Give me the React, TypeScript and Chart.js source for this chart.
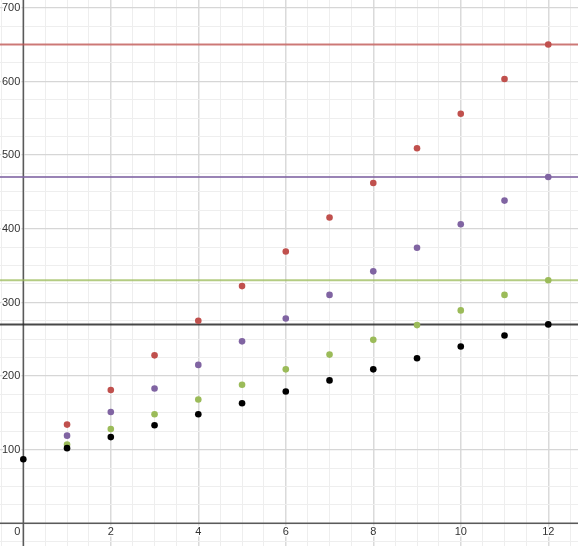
import React, { useEffect, useRef } from "react";
import { Chart, registerables } from "chart.js";

Chart.register(...registerables);

// ---- data ----
const steps = [0, 1, 2, 3, 4, 5, 6, 7, 8, 9, 10, 11, 12];
const redValues = [null, 134, 181, 228, 275, 322, 369, 415, 462, 509, 556, 603, 650];
const purpleValues = [null, 119, 151, 183, 215, 247, 278, 310, 342, 374, 406, 438, 470];
const greenValues = [null, 107, 128, 148, 168, 188, 209, 229, 249, 269, 289, 310, 330];
const blackValues = [87, 102, 117, 133, 148, 163, 179, 194, 209, 224, 240, 255, 270];

const targetValues = [650, 470, 330, 270];
const targetColors = ["rgba(192,80,77,0.75)", "rgba(128,100,162,0.8)", "rgba(155,187,89,0.75)", "rgba(40,40,40,0.85)"];

const xTickLabels = [0, 2, 4, 6, 8, 10, 12];
const yTickLabels = [100, 200, 300, 400, 500, 600, 700];

const X_MIN = -0.533;
const X_MAX = 12.68;
const Y_MIN = -30.8;
const Y_MAX = 710.3;

const toPoints = (vals: (number | null)[]) =>
  steps
    .map((x, i) => ({ x, y: vals[i] }))
    .filter((p) => p.y !== null) as { x: number; y: number }[];

const axesPlugin = {
  id: "desmosAxes",
  beforeDatasetsDraw(chart: any) {
    const { ctx, chartArea, scales } = chart;
    const xs = scales.x;
    const ys = scales.y;
    const x0 = xs.getPixelForValue(0);
    const y0 = ys.getPixelForValue(0);
    ctx.save();
    ctx.strokeStyle = "#5a5a5a";
    ctx.lineWidth = 1.5;
    ctx.beginPath();
    ctx.moveTo(x0, chartArea.top);
    ctx.lineTo(x0, chartArea.bottom);
    ctx.moveTo(chartArea.left, y0);
    ctx.lineTo(chartArea.right, y0);
    ctx.stroke();
    ctx.restore();
  },
  afterDatasetsDraw(chart: any) {
    const { ctx, scales } = chart;
    const xs = scales.x;
    const ys = scales.y;
    const x0 = xs.getPixelForValue(0);
    const y0 = ys.getPixelForValue(0);
    ctx.save();
    ctx.font = "11px Arial, 'Liberation Sans', sans-serif";
    ctx.fillStyle = "#333333";
    ctx.strokeStyle = "rgba(255,255,255,0.9)";
    ctx.lineWidth = 3;
    ctx.lineJoin = "round";
    ctx.textAlign = "right";
    ctx.textBaseline = "middle";
    yTickLabels.forEach((v) => {
      const py = ys.getPixelForValue(v);
      const t = String(v);
      ctx.strokeText(t, x0 - 3, py + 0.5);
      ctx.fillText(t, x0 - 3, py + 0.5);
    });
    ctx.textAlign = "center";
    ctx.textBaseline = "top";
    xTickLabels.forEach((v) => {
      let px = xs.getPixelForValue(v);
      if (v === 0) px = x0 - 6;
      const t = String(v);
      ctx.strokeText(t, px, y0 + 3);
      ctx.fillText(t, px, y0 + 3);
    });
    ctx.restore();
  },
};

export default function App() {
  const canvasRef = useRef<HTMLCanvasElement | null>(null);

  useEffect(() => {
    document.body.style.margin = "0";
    const canvas = canvasRef.current;
    if (!canvas) return;

    const lineDatasets = targetValues.map((t, i) => ({
      type: "line" as const,
      data: [
        { x: X_MIN - 1, y: t },
        { x: X_MAX + 1, y: t },
      ],
      borderColor: targetColors[i],
      borderWidth: 2,
      pointRadius: 0,
      showLine: true,
      order: 5,
    }));

    const pointSeries = [
      { vals: redValues, color: "#C0504D" },
      { vals: purpleValues, color: "#8064A2" },
      { vals: greenValues, color: "#9BBB59" },
      { vals: blackValues, color: "#000000" },
    ];
    const pointDatasets = pointSeries.map((s, i) => ({
      type: "scatter" as const,
      data: toPoints(s.vals),
      backgroundColor: s.color,
      borderColor: s.color,
      borderWidth: 0,
      pointRadius: 3.3,
      showLine: false,
      order: 4 - i,
    }));

    const chart = new Chart(canvas, {
      type: "scatter",
      data: { datasets: [...lineDatasets, ...pointDatasets] as any },
      plugins: [axesPlugin],
      options: {
        animation: false,
        responsive: false,
        maintainAspectRatio: false,
        layout: { padding: 0, autoPadding: false },
        plugins: { legend: { display: false }, tooltip: { enabled: false } },
        scales: {
          x: {
            type: "linear",
            min: X_MIN,
            max: X_MAX,
            afterBuildTicks: (scale: any) => {
              const t = [];
              for (let v = -0.5; v <= 12.5; v += 0.5) t.push({ value: v });
              scale.ticks = t;
            },
            ticks: { display: false },
            border: { display: false },
            grid: {
              drawTicks: false,
              color: (c: any) => {
                const v = c.tick ? c.tick.value : 0;
                return Math.abs(v % 2) < 1e-9 ? "#dadada" : "#eeeeee";
              },
              lineWidth: (c: any) => {
                const v = c.tick ? c.tick.value : 0;
                return Math.abs(v % 2) < 1e-9 ? 1.5 : 1;
              },
            },
          },
          y: {
            type: "linear",
            min: Y_MIN,
            max: Y_MAX,
            afterBuildTicks: (scale: any) => {
              const t = [];
              for (let v = -25; v <= 700; v += 25) t.push({ value: v });
              scale.ticks = t;
            },
            ticks: { display: false },
            border: { display: false },
            grid: {
              drawTicks: false,
              color: (c: any) => {
                const v = c.tick ? c.tick.value : 0;
                return Math.abs(v % 100) < 1e-9 ? "#d6d6d6" : "#eeeeee";
              },
              lineWidth: (c: any) => {
                const v = c.tick ? c.tick.value : 0;
                return Math.abs(v % 100) < 1e-9 ? 1.2 : 1;
              },
            },
          },
        },
      },
    });
    return () => chart.destroy();
  }, []);

  return (
    <div style={{ width: 578, height: 546, background: "#ffffff" }}>
      <canvas ref={canvasRef} width={578} height={546} style={{ display: "block" }} />
    </div>
  );
}
